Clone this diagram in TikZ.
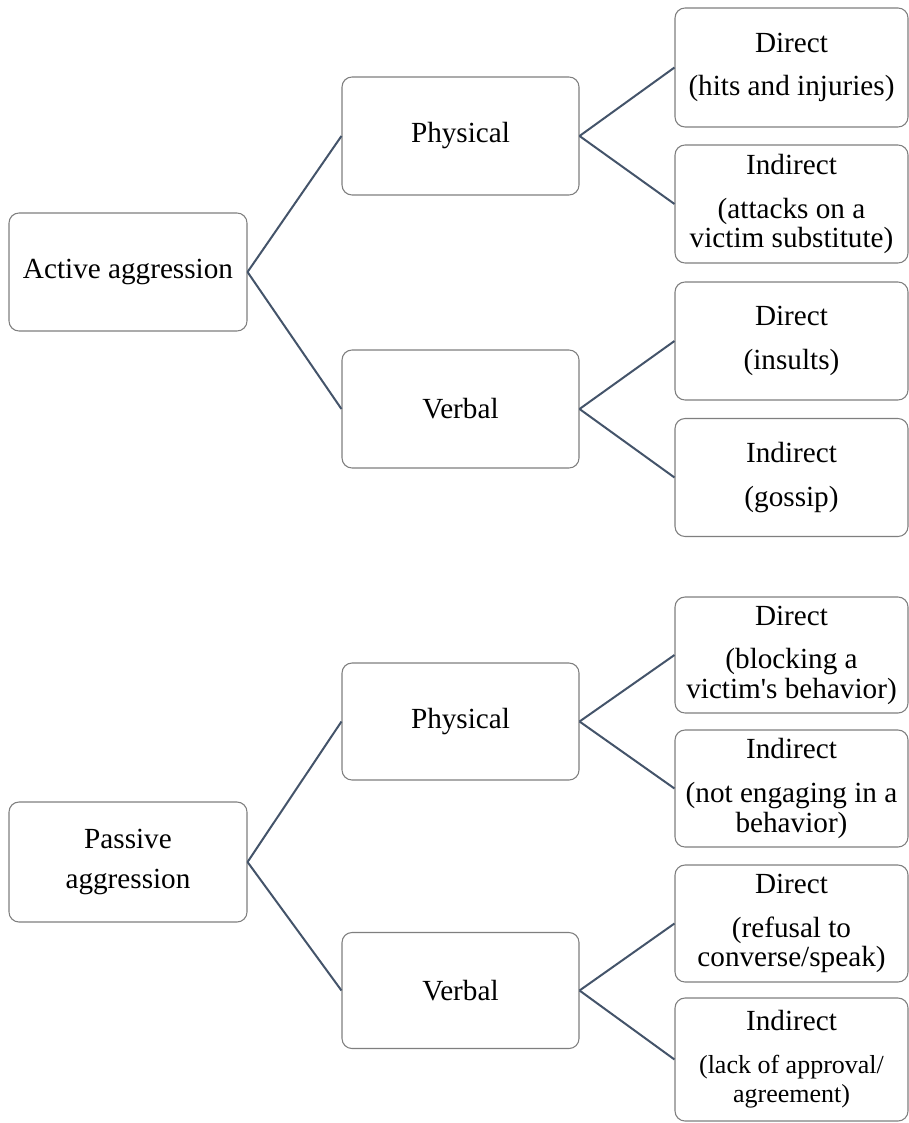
\documentclass[tikz,border=0pt]{standalone}
\usepackage{fontspec}
\setmainfont{Liberation Serif}[Ligatures=TeXOff]
\definecolor{boxgray}{HTML}{7F7F7F}
\definecolor{conncol}{HTML}{44546A}
\begin{document}
\begin{tikzpicture}[x=0.75pt,y=-0.75pt,
  box/.style={draw=boxgray, line width=0.8pt, rounded corners=7.5pt, fill=white,
    inner sep=0pt, align=center, font=\fontsize{21.9}{21.9}\selectfont},
  lbox/.style={box, minimum width=178.5pt, minimum height=88.5pt},
  mbox/.style={box, minimum width=177.75pt, minimum height=88.5pt},
  rbox/.style={box, minimum width=174.75pt, minimum height=88.5pt},
  conn/.style={draw=conncol, line width=1.5pt}]
\useasboundingbox (0,0) rectangle (909,1123);

% top half
\node[lbox] (A) at (128,272) {Active aggression};
\node[mbox] (P1) at (460.5,136) {Physical};
\node[mbox] (V1) at (460.5,409) {Verbal};
\node[rbox, minimum height=89.25pt] (D1) at (791.5,67.5) {Direct\\[11pt](hits and injuries)};
\node[rbox] (I1) at (791.5,204) {Indirect\\[11pt](attacks on a\\victim substitute)};
\node[rbox] (D2) at (791.5,341) {Direct\\[11pt](insults)};
\node[rbox] (I2) at (791.5,477.5) {Indirect\\[11pt](gossip)};

% bottom half
\node[lbox, minimum height=90pt] (B) at (128,862) {Passive\\[8pt]aggression};
\node[mbox, minimum height=87.75pt] (P2) at (460.5,721.5) {Physical};
\node[mbox, minimum height=87pt] (V2) at (460.5,990.5) {Verbal};
\node[rbox, minimum height=87pt] (D3) at (791.5,655) {Direct\\[11pt](blocking a\\victim's behavior)};
\node[rbox, minimum height=87.75pt] (I3) at (791.5,788.5) {Indirect\\[11pt](not engaging in a\\behavior)};
\node[rbox, minimum height=87.75pt] (D4) at (791.5,923.5) {Direct\\[11pt](refusal to\\converse/speak)};
\node[rbox, minimum height=92.25pt] (I4) at (791.5,1059.5) {Indirect\\[10pt]{\fontsize{19.5}{21}\selectfont(lack of approval/}\\{\fontsize{19.5}{21}\selectfont agreement)}};

% connectors
\draw[conn] (A.east) -- (P1.west);
\draw[conn] (A.east) -- (V1.west);
\draw[conn] (P1.east) -- (D1.west);
\draw[conn] (P1.east) -- (I1.west);
\draw[conn] (V1.east) -- (D2.west);
\draw[conn] (V1.east) -- (I2.west);
\draw[conn] (B.east) -- (P2.west);
\draw[conn] (B.east) -- (V2.west);
\draw[conn] (P2.east) -- (D3.west);
\draw[conn] (P2.east) -- (I3.west);
\draw[conn] (V2.east) -- (D4.west);
\draw[conn] (V2.east) -- (I4.west);
\end{tikzpicture}
\end{document}
